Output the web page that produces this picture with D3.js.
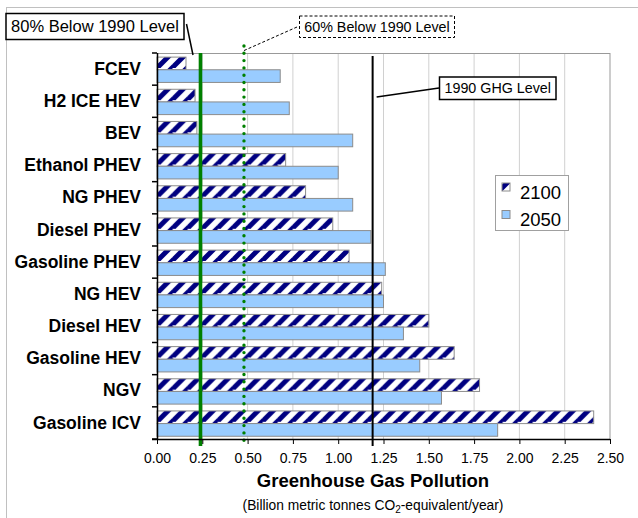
<!DOCTYPE html>
<html>
<head>
<meta charset="utf-8">
<script src="https://cdn.jsdelivr.net/npm/d3@7"></script>
<style>
  body { margin: 0; background: #fff; }
  svg { font-family: Arial, "Liberation Sans", sans-serif; }
</style>
</head>
<body>
<script>
// vehicle types, top to bottom
const vehicles = ["FCEV", "H2 ICE HEV", "BEV", "Ethanol PHEV", "NG PHEV", "Diesel PHEV",
  "Gasoline PHEV", "NG HEV", "Diesel HEV", "Gasoline HEV", "NGV", "Gasoline ICV"];
const series = ["2100", "2050"];
// billion metric tonnes CO2-eq / year
const ghg2100 = [0.16, 0.21, 0.22, 0.71, 0.82, 0.97, 1.06, 1.24, 1.50, 1.64, 1.78, 2.41];
const ghg2050 = [0.68, 0.73, 1.08, 1.00, 1.08, 1.18, 1.26, 1.25, 1.36, 1.45, 1.57, 1.88];
const xTicks = [0, 0.25, 0.5, 0.75, 1, 1.25, 1.5, 1.75, 2, 2.25, 2.5];
const level1990 = 1.19;
const level80 = 0.24;
const level60 = 0.48;

const W = 638, H = 518;
const margin = {top: 53, right: 28, bottom: 79, left: 157};
const width = W - margin.left - margin.right,
    height = H - margin.top - margin.bottom;

const svg = d3.select("body").append("svg")
    .attr("width", W)
    .attr("height", H);

const defs = svg.append("defs");
const pat = defs.append("pattern")
    .attr("id", "hatch")
    .attr("patternUnits", "userSpaceOnUse")
    .attr("width", 15).attr("height", 15);
pat.append("rect").attr("width", 15).attr("height", 15).attr("fill", "#fff");
[[-15, 15, 0, 0], [0, 15, 15, 0], [0, 30, 30, 0]].forEach(function (l) {
    pat.append("line")
        .attr("x1", l[0]).attr("y1", l[1]).attr("x2", l[2]).attr("y2", l[3])
        .attr("stroke", "#000080").attr("stroke-width", 5);
});

// outer chart frame
svg.append("rect")
    .attr("x", 6.5).attr("y", 7.5)
    .attr("width", W).attr("height", H)
    .attr("fill", "none").attr("stroke", "#c0c0c0");

const g = svg.append("g")
    .attr("transform", "translate(" + margin.left + "," + margin.top + ")");

const x = d3.scaleLinear().domain([0, 2.5]).range([0, width]);
const y = d3.scaleBand().domain(vehicles).range([0, height]).padding(0);
const ySub = d3.scaleBand().domain(series).range([0, y.bandwidth()])
    .paddingInner(0).paddingOuter(0.27).align(0.6);

// grid
g.selectAll(".grid").data(xTicks.slice(1)).enter().append("line")
    .attr("class", "grid")
    .attr("x1", d => x(d)).attr("x2", d => x(d))
    .attr("y1", 0).attr("y2", height)
    .attr("stroke", d => d === 2.5 ? "#999" : "#d0d0d0")
    .attr("stroke-width", 1);
g.append("line")
    .attr("x1", 0).attr("x2", width).attr("y1", 0.5).attr("y2", 0.5)
    .attr("stroke", "#999");

// bars
const rows = g.selectAll(".row").data(vehicles).enter().append("g")
    .attr("class", "row")
    .attr("transform", d => "translate(0," + y(d) + ")");

rows.append("rect")
    .attr("x", 0)
    .attr("y", ySub("2100"))
    .attr("width", (d, i) => x(ghg2100[i]))
    .attr("height", ySub.bandwidth())
    .attr("fill", "url(#hatch)")
    .attr("stroke", "#8c8c8c").attr("stroke-width", 1);

rows.append("rect")
    .attr("x", 0)
    .attr("y", ySub("2050"))
    .attr("width", (d, i) => x(ghg2050[i]))
    .attr("height", ySub.bandwidth())
    .attr("fill", "#99ccff")
    .attr("stroke", "#8c8c8c").attr("stroke-width", 1);

// reference lines
g.append("line")
    .attr("x1", x(level80)).attr("x2", x(level80))
    .attr("y1", 0).attr("y2", height + 7)
    .attr("stroke", "#008000").attr("stroke-width", 3.6);
g.append("line")
    .attr("x1", x(level60)).attr("x2", x(level60))
    .attr("y1", -7).attr("y2", height + 7)
    .attr("stroke", "#008000").attr("stroke-width", 3.4)
    .attr("stroke-linecap", "round")
    .attr("stroke-dasharray", "0 7.3");
g.append("line")
    .attr("x1", x(level1990)).attr("x2", x(level1990))
    .attr("y1", 3).attr("y2", height + 7)
    .attr("stroke", "#000").attr("stroke-width", 2);

// axes
const xAxis = d3.axisBottom(x).tickValues(xTicks)
    .tickFormat(d3.format(".2f")).tickSize(5).tickPadding(9);
const gx = g.append("g")
    .attr("transform", "translate(0," + height + ")")
    .call(xAxis);
gx.select(".domain").attr("d", "M-5,0.5H" + width).attr("stroke", "#000").attr("stroke-width", 1.5);
gx.selectAll("text").attr("font-size", 14).attr("fill", "#000")
    .attr("font-family", "Arial, 'Liberation Sans', sans-serif");

const yAxis = d3.axisLeft(y).tickSize(0).tickPadding(16);
const gy = g.append("g").call(yAxis);
gy.select(".domain").attr("d", "M0.5,0V" + height).attr("stroke", "#000").attr("stroke-width", 1.5);
gy.selectAll("text").attr("font-size", 17.5).attr("font-weight", "bold").attr("fill", "#000")
    .attr("font-family", "Arial, 'Liberation Sans', sans-serif");
// category boundary ticks
gy.selectAll(".sep").data(d3.range(vehicles.length + 1)).enter().append("line")
    .attr("x1", -5).attr("x2", 0)
    .attr("y1", i => i * y.step()).attr("y2", i => i * y.step())
    .attr("stroke", "#000").attr("stroke-width", 1.5);

// axis titles
const titleX = 373;
svg.append("text")
    .attr("x", titleX).attr("y", 487)
    .attr("text-anchor", "middle")
    .attr("font-size", 18.5).attr("font-weight", "bold")
    .text("Greenhouse Gas Pollution");
const sub = svg.append("text")
    .attr("x", titleX).attr("y", 510)
    .attr("text-anchor", "middle")
    .attr("font-size", 13.8);
sub.append("tspan").text("(Billion metric tonnes CO");
sub.append("tspan").attr("font-size", 10).attr("dy", 3).text("2");
sub.append("tspan").attr("dy", -3).text("-equivalent/year)");

// legend
const leg = svg.append("g");
leg.append("rect")
    .attr("x", 495.5).attr("y", 175.5).attr("width", 73).attr("height", 55)
    .attr("fill", "#fff").attr("stroke", "#a0a0a0");
[["2100", "url(#hatch)", 183], ["2050", "#99ccff", 210.5]].forEach(function (e) {
    leg.append("rect")
        .attr("x", 502).attr("y", e[2]).attr("width", 8).attr("height", 8)
        .attr("fill", e[1]).attr("stroke", "#8c8c8c");
    leg.append("text")
        .attr("x", 520).attr("y", e[2] + 15.5)
        .attr("font-size", 18.5)
        .text(e[0]);
});

// annotations
function callout(x0, y0, w, h, label, fs, dashed) {
    svg.append("rect")
        .attr("x", x0).attr("y", y0).attr("width", w).attr("height", h)
        .attr("fill", "#fff").attr("stroke", "#000")
        .attr("stroke-width", dashed ? 1 : 1.5)
        .attr("stroke-dasharray", dashed ? "3 2" : null);
    svg.append("text")
        .attr("x", x0 + w / 2).attr("y", y0 + h / 2 + fs * 0.36)
        .attr("text-anchor", "middle").attr("font-size", fs)
        .text(label);
}
svg.append("line")
    .attr("x1", 186.5).attr("y1", 24).attr("x2", 193).attr("y2", 55)
    .attr("stroke", "#000").attr("stroke-width", 1.5);
callout(6, 13.5, 178, 26, "80% Below 1990 Level", 16.5, false);

svg.append("line")
    .attr("x1", 297).attr("y1", 27).attr("x2", 243).attr("y2", 51)
    .attr("stroke", "#000").attr("stroke-width", 1).attr("stroke-dasharray", "3 2");
callout(299.5, 16, 155, 21.5, "60% Below 1990 Level", 14.3, true);

svg.append("line")
    .attr("x1", margin.left + x(level1990) + 4).attr("y1", 97)
    .attr("x2", 439).attr("y2", 88)
    .attr("stroke", "#000").attr("stroke-width", 1.5);
callout(439.5, 77, 116.5, 22.5, "1990 GHG Level", 14.3, false);
</script>
</body>
</html>
